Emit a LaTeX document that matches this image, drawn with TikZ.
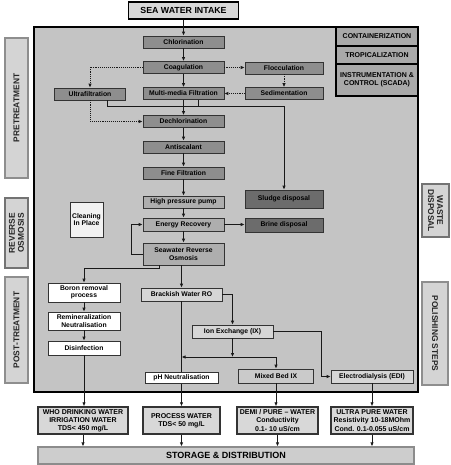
\documentclass[tikz,border=0pt]{standalone}
\usepackage{fontspec}
\setmainfont{Liberation Sans}
\usetikzlibrary{arrows.meta,calc}
\definecolor{bgmain}{HTML}{C4C4C4}
\definecolor{procdark}{HTML}{8E8E8E}
\definecolor{procmid}{HTML}{AEAEAE}
\definecolor{proclight}{HTML}{D6D6D6}
\definecolor{waste}{HTML}{6C6C6C}
\definecolor{topgray}{HTML}{A9A9A9}
\definecolor{sidefill}{HTML}{D4D4D4}
\definecolor{sideline}{HTML}{8E8E8E}
\definecolor{outfill}{HTML}{D8D8D8}
\definecolor{edge}{HTML}{333333}
\begin{document}
\begin{tikzpicture}[x=1pt,y=-1pt,
  sz/.style 2 args={minimum width=#1pt, minimum height=#2pt},
  base/.style={draw=edge, line width=0.6pt, inner sep=0.5pt, align=center,
    font=\fontsize{6.8}{7.4}\selectfont\bfseries, text=black},
  dark/.style={base, fill=procdark},
  mid/.style={base, fill=procmid},
  light/.style={base, fill=proclight},
  white/.style={base, fill=white},
  wastebox/.style={base, fill=waste},
  topbox/.style={draw=black, line width=1.4pt, fill=topgray, inner sep=0pt, align=center,
    font=\fontsize{7}{8.2}\selectfont\bfseries},
  side/.style={draw=sideline, line width=1.2pt, fill=sidefill, inner sep=0pt, align=center,
    font=\fontsize{8.4}{9.2}\selectfont\bfseries, text=black!85},
  outbox/.style={draw=black!80, line width=1.4pt, fill=outfill, inner sep=0pt, align=center,
    font=\fontsize{7}{8.2}\selectfont\bfseries},
  arr/.style={-{Latex[length=4pt,width=3.4pt]}, line width=0.75pt, draw=black!90},
  plain/.style={line width=0.75pt, draw=black!90},
  dotline/.style={arr, dash pattern=on 1.1pt off 1pt}
]
\useasboundingbox (0,0) rectangle (450,465);

% main area
\draw[fill=bgmain, line width=1.8pt] (34,27) rectangle (418,392);

% intake
\node[base, sz={110}{17}, fill=outfill, draw=black, line width=1.5pt,
  font=\fontsize{8.8}{10}\selectfont\bfseries] (intake) at (183.5,10.5) {SEA WATER INTAKE};

% top-right group
\node[topbox, sz={82}{19}] (cont) at (377,36.5) {CONTAINERIZATION};
\node[topbox, sz={82}{18}] (trop) at (377,55) {TROPICALIZATION};
\node[topbox, sz={82}{32}] (inst) at (377,80) {INSTRUMENTATION \&\\CONTROL (SCADA)};

% side labels
\node[side, rotate=90, sz={140}{23}] (pre) at (16.5,108) {PRETREATMENT};
\node[side, rotate=90, sz={70}{23}, draw=black!55] (rosm) at (16.5,233) {REVERSE\\OSMOSIS};
\node[side, rotate=90, sz={106}{23}] (post) at (16.5,330) {POST-TREATMENT};
\node[side, rotate=-90, sz={53}{27}, draw=black!55] (wd) at (435.5,210.5) {WASTE\\DISPOSAL};
\node[side, rotate=-90, sz={103}{26}] (pol) at (435,333.5) {POLISHING STEPS};

% pretreatment chain
\node[dark, sz={81}{12}] (chl) at (183.5,42) {Chlorination};
\node[dark, sz={81}{12}] (coag) at (183.5,67.5) {Coagulation};
\node[dark, sz={78}{12}] (floc) at (284,68) {Flocculation};
\node[dark, sz={81}{12}] (mmf) at (183.5,93.5) {Multi-media Filtration};
\node[dark, sz={78}{12}] (sed) at (284,93.5) {Sedimentation};
\node[dark, sz={71}{12}] (uf) at (90,94) {Ultrafiltration};
\node[dark, sz={81}{12}] (dech) at (183.5,121.5) {Dechlorination};
\node[dark, sz={81}{12}] (anti) at (183.5,147) {Antiscalant};
\node[dark, sz={81}{12}] (fine) at (183.5,173) {Fine Filtration};

% RO
\node[mid, sz={81}{12}] (hpp) at (183.5,202) {High pressure pump};
\node[mid, sz={81}{13}] (er) at (183.5,224.5) {Energy Recovery};
\node[mid, sz={81}{22}] (swro) at (183.5,254) {Seawater Reverse\\Osmosis};
\node[white, fill=white!95!black, sz={33}{35}] (cip) at (86.5,219.5) {Cleaning\\In Place};
\node[wastebox, sz={78}{18}] (sludge) at (284,199) {Sludge disposal};
\node[wastebox, sz={78}{14}] (brine) at (284,225) {Brine disposal};

% post treatment
\node[white, sz={72}{19}] (boron) at (84,292.5) {Boron removal\\process};
\node[white, sz={72}{18}] (remin) at (84,321) {Remineralization\\Neutralisation};
\node[white, sz={72}{14}] (disinf) at (84,348) {Disinfection};
\node[light, sz={81}{13}] (bwro) at (181.5,294.5) {Brackish Water RO};
\node[light, sz={81}{13}] (ix) at (232.5,331.5) {Ion Exchange (IX)};
\node[light, fill=bgmain!90!white, sz={75}{14}] (mbix) at (276,376) {Mixed Bed IX};
\node[white, sz={73}{11}] (ph) at (181.5,378) {pH Neutralisation};
\node[light, sz={82}{13}] (edi) at (372,376.5) {Electrodialysis (EDI)};

% outputs
\node[outbox, sz={90}{27}] (who) at (83,420.5) {WHO DRINKING WATER\\IRRIGATION WATER\\TDS< 450 mg/L};
\node[outbox, sz={77}{27}] (proc) at (181.5,420.5) {PROCESS WATER\\TDS< 50 mg/L};
\node[outbox, sz={81}{27}] (demi) at (277.5,420.5) {DEMI / PURE -- WATER\\Conductivity\\0.1- 10 uS/cm};
\node[outbox, sz={82}{27}] (ultra) at (372,420.5) {ULTRA PURE WATER\\Resistivity 10-18MOhm\\Cond. 0.1-0.055 uS/cm};
\node[base, draw=black!45, line width=1.2pt, fill=outfill!95!black, sz={376}{17},
  font=\fontsize{9}{10}\selectfont\bfseries] (storage) at (226,455.5) {STORAGE \& DISTRIBUTION};

% connectors: main chain
\draw[arr] (intake.south) -- (chl.north);
\draw[arr] (chl.south) -- (coag.north);
\draw[arr] (coag.south) -- (mmf.north);
\draw[arr] (mmf.south) -- (dech.north);
\draw[arr] (dech.south) -- (anti.north);
\draw[arr] (anti.south) -- (fine.north);
\draw[arr] (fine.south) -- (hpp.north);
\draw[arr] (hpp.south) -- (er.north);
\draw[arr] (er.south) -- (swro.north);

% dotted options
\draw[dotline] (coag.east) -- (coag.east -| floc.west);
\draw[dotline] (floc.south) -- (sed.north);
\draw[dotline] (sed.west) -- (sed.west -| mmf.east);
\draw[dotline] (coag.west) -| (uf.north);
\draw[dotline] (uf.south) |- (dech.west);

% sludge collection
\draw[arr] ([xshift=17pt]uf.south) -- ++(0,6) -| (sludge.north);
\draw[plain] ([xshift=14.5pt]mmf.south) -- ++(0,6.5);

% RO loop and brine
\draw[arr] (swro.west) -- ++(-11,0) |- (er.west);
\draw[arr] (er.east) -- (er.east -| brine.west);

% post treatment
\draw[arr] ([xshift=-24.5pt]swro.south) -- ++(0,3) -| (boron.north);
\draw[arr] (boron.south) -- (remin.north);
\draw[arr] (remin.south) -- (disinf.north);
\draw[arr] (disinf.south) -- (disinf.south |- who.north);
\draw[arr] (swro.south -| bwro.north) -- (bwro.north);
\draw[plain] (bwro.south) -- (ph.north);
\draw[arr] (ph.south) -- (ph.south |- proc.north);

% polishing
\coordinate (jn) at (232.5,357);
\draw[arr] (bwro.east) -| (ix.north);
\draw[arr] (ix.south) -- (jn);
\draw[arr] (jn) -- (jn -| bwro.south);
\draw[arr] (jn) -| (mbix.north);
\draw[arr] (ix.east) -- ++(48.5,0) |- (edi.west);
\draw[arr] (mbix.south) -- (mbix.south |- demi.north);
\draw[arr] (edi.south) -- (edi.south |- ultra.north);

% to storage
\draw[arr] (who.south) -- (who.south |- storage.north);
\draw[arr] (proc.south) -- (proc.south |- storage.north);
\draw[arr] (demi.south) -- (demi.south |- storage.north);
\draw[arr] (ultra.south) -- (ultra.south |- storage.north);
\end{tikzpicture}
\end{document}
